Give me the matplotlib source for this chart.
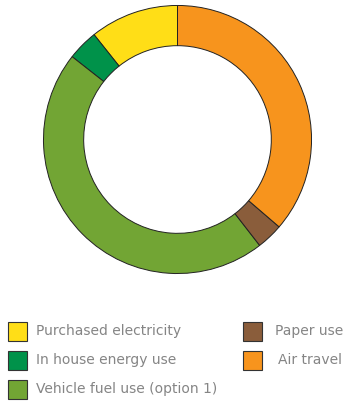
import matplotlib
matplotlib.use("Agg")
import matplotlib.pyplot as plt
from matplotlib.patches import Rectangle

categories = ["Purchased electricity", "In house energy use", "Vehicle fuel use (option 1)",
              "Paper use", "Air travel"]
values = [10.7, 3.7, 46.1, 3.2, 36.3]
colors = ["#FFDE17", "#00924A", "#72A534", "#8A5D3B", "#F7941D"]

W, H = 346, 403
fig = plt.figure(figsize=(W / 100, H / 100), dpi=100)
fig.patch.set_facecolor("white")

cx, cy, r = 177.5, 139.5, 134.7
ax = fig.add_axes([(cx - r) / W, (H - cy - r) / H, 2 * r / W, 2 * r / H])
ax.pie(values, colors=colors, startangle=90, counterclock=True, radius=1.0,
       wedgeprops=dict(width=0.30, edgecolor="#222222", linewidth=0.7))
ax.set_xlim(-1.005, 1.005)
ax.set_ylim(-1.005, 1.005)
ax.set_aspect("equal")
ax.axis("off")

# legend (two columns, column-major)
col_x = [8, 243]
text_x = [36, 275]
row_y = [331, 360, 389]
for i, (lab, col) in enumerate(zip(categories, colors)):
    c = i // 3
    rr = i % 3
    x0 = col_x[c]
    y0 = row_y[rr]
    s = 19
    fig.patches.append(Rectangle((x0 / W, (H - y0 - s / 2) / H), s / W, s / H,
                                 transform=fig.transFigure, facecolor=col,
                                 edgecolor="#333333", linewidth=0.8))
    tx = text_x[c] + (3 if lab == "Air travel" else 0)
    fig.text(tx / W, (H - y0) / H, lab, ha="left", va="center",
             fontsize=10, color="#858585", family="DejaVu Sans")

fig.savefig("out.png", dpi=100, facecolor="white")
